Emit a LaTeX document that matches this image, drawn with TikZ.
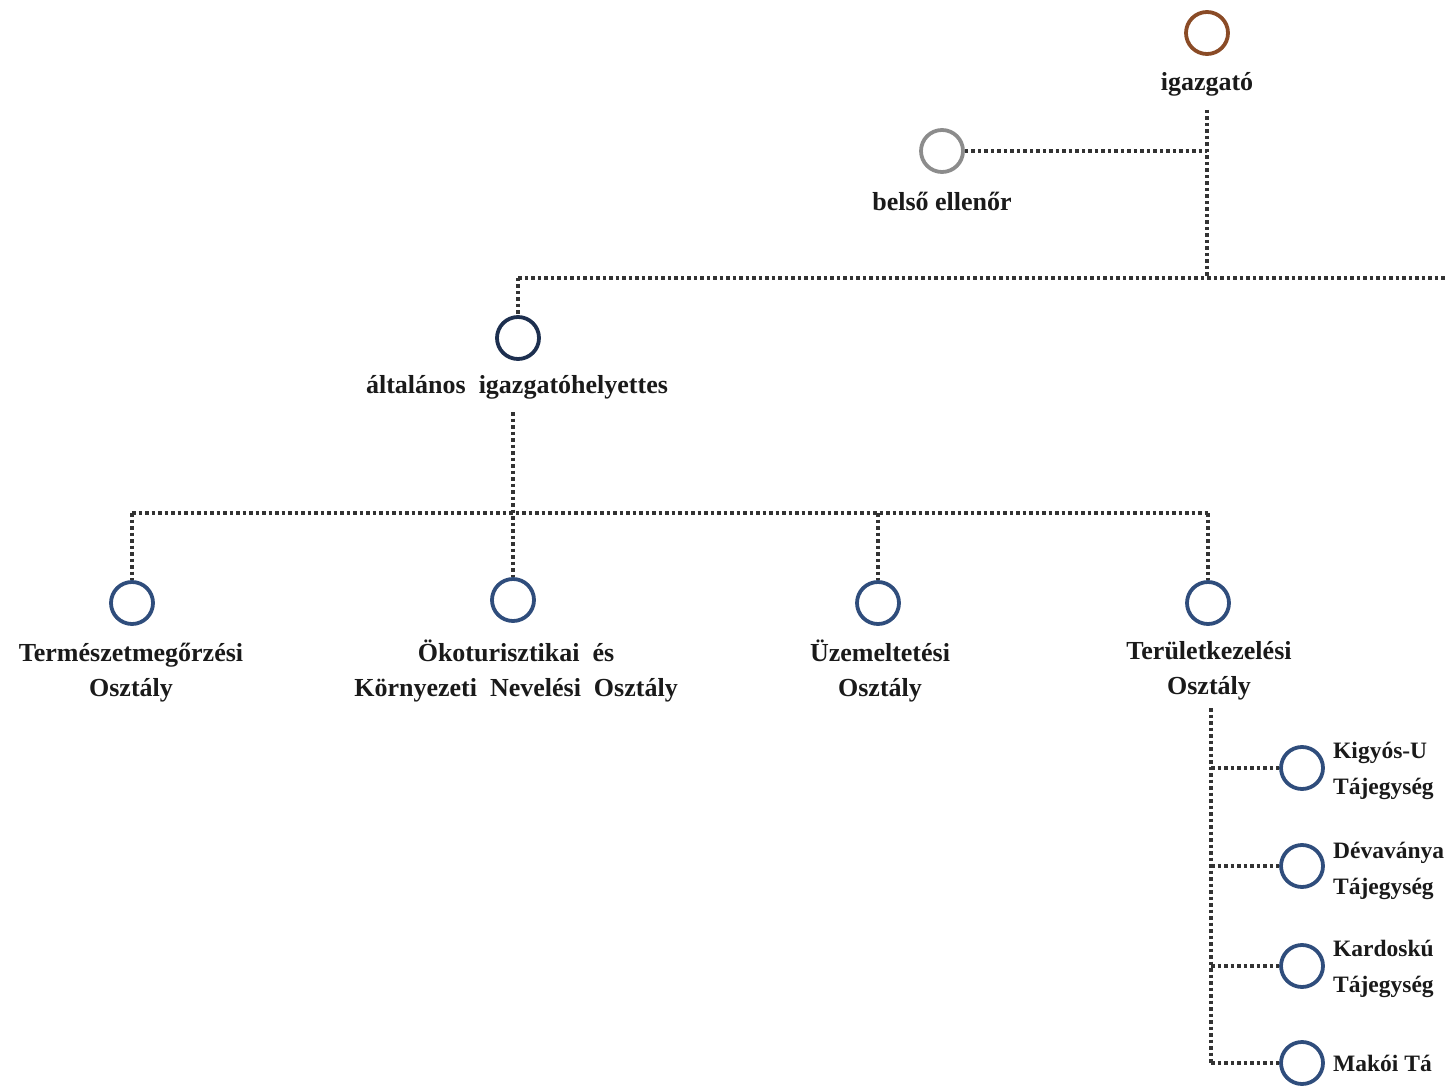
\documentclass[tikz,border=0pt]{standalone}
\usepackage{fontspec}
\setmainfont{Liberation Serif}
\definecolor{brn}{HTML}{8A4B26}
\definecolor{gry}{HTML}{8C8C8C}
\definecolor{nvy}{HTML}{1D2F4F}
\definecolor{blu}{HTML}{2F4D7C}
\definecolor{txt}{HTML}{1A1A1A}
\tikzset{
  unit/.style={circle, draw, line width=3.8pt, minimum size=42pt, inner sep=0pt},
  lbl/.style={font=\fontsize{26}{35}\selectfont\bfseries, text=txt, align=center, inner sep=0pt},
  lblr/.style={font=\fontsize{23.5}{36}\selectfont\bfseries, text=txt, align=left, inner sep=0pt, anchor=west},
  conn/.style={draw=black!80, line width=3.5pt, dash pattern=on 3.5pt off 3pt}
}
\begin{document}
\begin{tikzpicture}[x=1pt,y=-1pt]
\useasboundingbox (0,0) rectangle (1446,1091);
\clip (0,0) rectangle (1446,1091);
% nodes
\node[unit, draw=brn] (ig) at (1207,33) {};
\node[lbl] (igl) at (1207,84) {igazgató};
\node[unit, draw=gry] (be) at (942,151) {};
\node[lbl] (bel) at (942,201) {belső ellenőr};
\node[unit, draw=nvy] (al) at (518,338) {};
\node[lbl] (all) at (517,387) {általános\ \ igazgatóhelyettes};
\node[unit, draw=blu] (o1) at (132,603) {};
\node[unit, draw=blu] (o2) at (513,600) {};
\node[unit, draw=blu] (o3) at (878,603) {};
\node[unit, draw=blu] (o4) at (1208,603) {};
\node[lbl] (o1l) at (131,673) {Természetmegőrzési\\Osztály};
\node[lbl] (o2l) at (516,671) {Ökoturisztikai\ \ és\\Környezeti\ \ Nevelési\ \ Osztály};
\node[lbl] (o3l) at (880,671) {Üzemeltetési\\Osztály};
\node[lbl] (o4l) at (1209,671) {Területkezelési\\Osztály};
\node[unit, draw=blu] (t1) at (1302,768) {};
\node[unit, draw=blu] (t2) at (1302,866) {};
\node[unit, draw=blu] (t3) at (1302,966) {};
\node[unit, draw=blu] (t4) at (1302,1063) {};
\node[lblr] (t1l) at (1333,771) {Kigyós-U\\Tájegység};
\node[lblr] (t2l) at (1333,871) {Dévaványa\\Tájegység};
\node[lblr] (t3l) at (1333,969) {Kardoskú\\Tájegység};
\node[lblr] (t4l) at (1333,1063) {Makói Tá};
% junction coordinates
\coordinate (j0) at (1207,110);
\coordinate (j1) at (1207,151);
\coordinate (j2) at (1207,278);
\coordinate (jl) at (518,278);
\coordinate (jr) at (1446,278);
\coordinate (k0) at (513,412);
\coordinate (k1) at (513,513);
\coordinate (kl) at (132,513);
\coordinate (k3) at (878,513);
\coordinate (kr) at (1208,513);
\coordinate (m0) at (1211,708);
\coordinate (m1) at (1211,768);
\coordinate (m2) at (1211,866);
\coordinate (m3) at (1211,966);
\coordinate (m4) at (1211,1063);
% connectors
\draw[conn] (j0) -- (j2);
\draw[conn] (be.east) -- (j1);
\draw[conn] (jl) -- (jr);
\draw[conn] (jl) -- (al.north);
\draw[conn] (k0) -- (o2.north);
\draw[conn] (kl) -- (kr);
\draw[conn] (kl) -- (o1.north);
\draw[conn] (k3) -- (o3.north);
\draw[conn] (kr) -- (o4.north);
\draw[conn] (m0) -- (m4);
\draw[conn] (m1) -- (t1.west);
\draw[conn] (m2) -- (t2.west);
\draw[conn] (m3) -- (t3.west);
\draw[conn] (m4) -- (t4.west);
\end{tikzpicture}
\end{document}
